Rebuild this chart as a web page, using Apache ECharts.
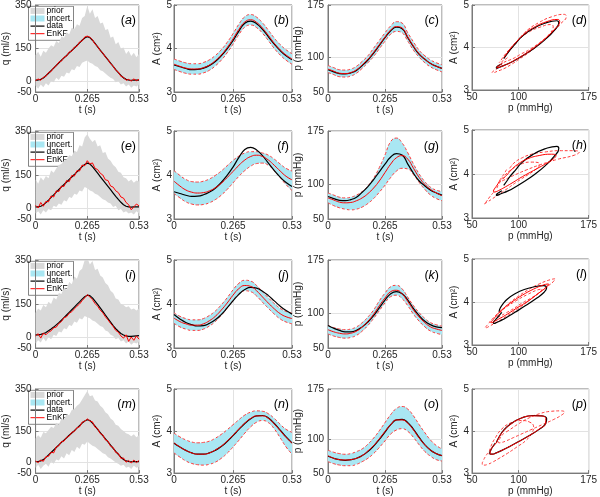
<!DOCTYPE html>
<html><head><meta charset="utf-8">
<script src="https://cdn.jsdelivr.net/npm/echarts@6/dist/echarts.min.js"></script>
<style>html,body{margin:0;padding:0;background:#fff}#c{width:600px;height:497px}</style>
</head><body><div id="c"></div><script>
// ---------- DATA ----------
const tq = [0,0.0133,0.0265,0.0398,0.053,0.0663,0.0795,0.0928,0.106,0.1193,0.1325,0.1458,0.159,0.1723,0.1855,0.1988,0.212,0.2253,0.2385,0.2518,0.265,0.2783,0.2915,0.3048,0.318,0.3313,0.3445,0.3578,0.371,0.3843,0.3975,0.4108,0.424,0.4373,0.4505,0.4638,0.477,0.4903,0.5035,0.5168,0.53];
const tAp = [0,0.0265,0.053,0.0795,0.106,0.1325,0.159,0.1855,0.212,0.2385,0.265,0.2915,0.318,0.3445,0.371,0.3975,0.424,0.4505,0.477,0.5035,0.53];

const qTicks = [-50,0,150,350];
const aTicks = [3,4,5];
const pTicks = [50,100,175];
const panelLetters = ['a','b','c','d','e','f','g','h','i','j','k','l','m','n','o','p'];
const legendNames = ['prior','uncert.','data','EnKF'];

// row 1
const qData1 = [5,5,8,14,25,36,48,60,72,84,96,107,118,130,141,152,164,176,188,198,204,200,188,173,158,143,128,113,98,83,68,53,39,26,15,8,5,4,5,5,5];
const qEnkf1 = [2,10,4,18,22,40,44,62,70,88,92,110,115,134,138,156,160,180,185,203,207,202,190,170,160,140,130,110,100,80,70,50,42,22,18,4,8,0,10,2,8];
const qPriorHi1 = [120,135,112,140,130,150,165,158,185,175,205,200,225,215,245,240,262,255,290,300,345,310,330,290,300,265,270,235,240,200,205,170,180,150,155,125,140,115,130,110,125];
const qPriorLo1 = [-20,-35,-15,-28,-10,-20,0,-5,15,5,25,20,40,35,55,50,70,65,85,90,95,85,80,70,65,50,45,35,25,15,10,-5,0,-15,-10,-25,-15,-30,-20,-25,-15];
const AData1 = [3.62,3.58,3.54,3.515,3.52,3.55,3.61,3.70,3.83,3.99,4.18,4.40,4.58,4.63,4.57,4.44,4.27,4.10,3.95,3.83,3.74];
const AEnkf1 = [3.64,3.59,3.55,3.53,3.53,3.56,3.62,3.72,3.85,4.02,4.22,4.44,4.61,4.66,4.60,4.47,4.30,4.12,3.97,3.85,3.76];
const ALo1 = [3.52,3.47,3.43,3.41,3.41,3.44,3.50,3.60,3.73,3.90,4.10,4.32,4.49,4.54,4.48,4.35,4.18,4.00,3.85,3.73,3.64];
const AHi1 = [3.76,3.71,3.67,3.65,3.65,3.68,3.74,3.84,3.97,4.14,4.34,4.56,4.73,4.78,4.72,4.59,4.42,4.24,4.09,3.97,3.88];
const pData1 = [82,79,76.5,76,77.5,81,88,96,106,117,128,138,143,141,128,115,104,97,91,87,84];
const pEnkf1 = [83,80,77,76.5,78,82,89,97,107,118,129,139,144,142,129,116,105,97,91,87,84];
const pLo1 = [78,75,72,71.5,73,77,84,92,101,112,123,133,137,135,123,110,100,92,86,82,79];
const pHi1 = [88,85,82,81.5,83,87,94,102,113,124,135,145,151,149,135,122,110,102,96,92,89];

// row 2
const qData2 = [5,5,8,14,25,36,48,60,72,84,96,107,118,130,141,152,164,176,188,198,204,200,188,173,158,143,128,113,98,83,68,53,39,26,15,8,5,4,5,5,5];
const qEnkf2 = [12,0,25,8,30,28,55,50,78,75,100,98,125,120,148,145,170,168,195,192,215,200,205,180,175,158,150,128,125,100,95,78,70,50,45,25,15,-8,5,18,10];
const qPriorHi2 = [130,110,140,125,145,135,170,160,180,195,200,215,220,240,235,260,255,285,280,320,335,315,300,310,280,285,250,255,225,215,195,185,165,160,140,135,120,130,115,125,120];
const qPriorLo2 = [-25,-15,-30,-10,-20,-5,-10,10,5,20,15,35,30,50,45,65,60,80,75,95,90,80,75,65,60,50,40,35,25,20,5,10,-10,-5,-20,-15,-25,-20,-30,-15,-25];
const AData2 = [3.62,3.58,3.54,3.515,3.52,3.55,3.61,3.70,3.83,3.99,4.18,4.40,4.58,4.63,4.57,4.44,4.27,4.10,3.95,3.83,3.74];
const AEnkf2 = [3.86,3.75,3.66,3.61,3.59,3.60,3.64,3.71,3.81,3.94,4.08,4.22,4.34,4.42,4.45,4.42,4.34,4.22,4.09,3.97,3.89];
const ALo2 = [3.58,3.48,3.39,3.34,3.32,3.33,3.37,3.44,3.54,3.67,3.82,3.97,4.10,4.20,4.26,4.27,4.22,4.10,3.94,3.78,3.65];
const AHi2 = [4.10,3.99,3.90,3.85,3.84,3.86,3.91,3.99,4.09,4.21,4.33,4.43,4.50,4.53,4.53,4.50,4.45,4.36,4.25,4.15,4.09];
const pData2 = [82,79,76.5,76,77.5,81,88,96,106,117,128,138,143,141,128,115,104,97,91,87,84];
const pEnkf2 = [80,77,74,73,73.5,76,80,86,94,104,116,128,137,140,135,122,109,99,92,87,83];
const pLo2 = [73,69,66,64,63,64,67,72,79,88,98,109,118,122,121,113,102,92,84,79,76];
const pHi2 = [87,84,81,80,81,84,89,97,108,123,141,160,165,158,144,128,114,103,95,91,89];

// row 3
const qData3 = [10,10,12,15,20,28,36,45,55,65,76,88,100,112,124,136,148,160,172,183,190,188,178,163,148,132,116,100,84,68,52,38,26,16,9,5,3,3,4,5,6];
const qEnkf3 = [5,15,-5,18,10,22,28,42,45,62,70,88,92,108,115,128,140,150,165,178,192,182,170,152,140,122,110,92,78,62,48,30,22,5,-5,10,-20,0,-15,5,-10];
const qPriorHi3 = [110,130,120,145,135,160,150,180,170,200,195,225,215,250,240,275,265,300,310,350,360,330,345,305,310,280,270,245,235,210,200,175,170,150,145,135,140,125,130,120,130];
const qPriorLo3 = [-30,-15,-25,-5,-20,0,-10,10,5,25,20,40,35,55,50,70,65,85,80,95,90,85,75,70,60,50,45,30,25,10,5,-10,-5,-20,-15,-30,-20,-35,-25,-30,-20];
const AData3 = [3.76,3.66,3.58,3.53,3.50,3.51,3.56,3.64,3.76,3.91,4.07,4.22,4.33,4.38,4.36,4.29,4.19,4.07,3.95,3.85,3.77];
const AEnkf3 = [3.68,3.60,3.55,3.52,3.52,3.55,3.62,3.72,3.86,4.02,4.20,4.35,4.42,4.40,4.30,4.16,4.02,3.89,3.78,3.71,3.67];
const ALo3 = [3.56,3.48,3.43,3.40,3.40,3.43,3.50,3.60,3.74,3.90,4.08,4.23,4.30,4.28,4.18,4.04,3.90,3.77,3.66,3.59,3.55];
const AHi3 = [3.80,3.72,3.67,3.64,3.64,3.67,3.74,3.84,3.98,4.14,4.32,4.47,4.54,4.52,4.42,4.28,4.14,4.01,3.90,3.83,3.79];
const pData3 = [82,78,75,73,73,75,80,87,96,107,118,127,130,127,118,106,96,88,83,80,79];
const pEnkf3 = [76,73,71,70,71,74,80,88,98,110,121,130,132,127,116,104,94,86,80,77,75];
const pLo3 = [70,67,65,64,65,68,74,82,92,103,114,123,125,120,110,98,88,80,74,71,69];
const pHi3 = [82,79,77,76,77,80,86,94,104,117,128,137,139,134,122,110,100,92,86,83,81];

// row 4
const qData4 = [5,5,8,14,25,36,48,60,72,84,96,107,118,130,141,152,164,176,188,198,204,200,188,173,158,143,128,113,98,83,68,53,39,26,15,8,5,4,5,5,5];
const qEnkf4 = [8,0,12,6,28,30,50,46,75,80,100,102,120,126,144,148,166,170,192,196,208,198,194,168,162,138,132,108,102,78,72,48,44,20,22,2,10,-2,12,0,10];
const qPriorHi4 = [115,130,118,145,140,155,170,165,190,180,210,205,230,225,250,255,270,280,300,320,340,315,320,295,290,270,260,240,230,210,200,180,175,160,150,140,135,125,135,120,130];
const qPriorLo4 = [-25,-10,-30,-15,-5,-20,5,-5,15,10,30,20,45,35,60,50,75,65,90,85,100,90,80,75,65,55,45,40,25,20,10,0,-5,-15,-10,-25,-20,-30,-15,-25,-20];
const AData4 = [3.71,3.62,3.54,3.48,3.45,3.45,3.48,3.54,3.63,3.75,3.89,4.04,4.18,4.29,4.36,4.37,4.31,4.18,4.02,3.86,3.72];
const AEnkf4 = [3.72,3.62,3.54,3.48,3.45,3.45,3.48,3.55,3.64,3.76,3.90,4.05,4.19,4.30,4.36,4.36,4.30,4.17,4.01,3.85,3.71];
const ALo4 = [3.48,3.38,3.29,3.23,3.20,3.19,3.21,3.26,3.35,3.47,3.62,3.78,3.95,4.10,4.21,4.25,4.20,4.05,3.84,3.62,3.45];
const AHi4 = [3.95,3.86,3.79,3.74,3.72,3.73,3.76,3.83,3.92,4.03,4.15,4.27,4.38,4.45,4.48,4.47,4.41,4.30,4.16,4.04,3.97];
const pData4 = [75,72,70,69,70,72,76,82,90,100,111,122,129,130,125,115,103,92,84,79,76];
const pEnkf4 = [76,72,70,69.5,70,72,76,83,91,101,112,122,129,129,124,114,102,92,84,79,76];
const pLo4 = [67,64,62,61,61,63,67,72,79,88,98,108,114,116,112,103,92,82,75,70,68];
const pHi4 = [84,81,79,78,79,82,86,93,102,113,125,137,146,149,145,135,122,110,99,91,86];

const rows = [
  {qData:qData1,qEnkf:qEnkf1,qLo:qPriorLo1,qHi:qPriorHi1,AData:AData1,AEnkf:AEnkf1,ALo:ALo1,AHi:AHi1,pData:pData1,pEnkf:pEnkf1,pLo:pLo1,pHi:pHi1},
  {qData:qData2,qEnkf:qEnkf2,qLo:qPriorLo2,qHi:qPriorHi2,AData:AData2,AEnkf:AEnkf2,ALo:ALo2,AHi:AHi2,pData:pData2,pEnkf:pEnkf2,pLo:pLo2,pHi:pHi2},
  {qData:qData3,qEnkf:qEnkf3,qLo:qPriorLo3,qHi:qPriorHi3,AData:AData3,AEnkf:AEnkf3,ALo:ALo3,AHi:AHi3,pData:pData3,pEnkf:pEnkf3,pLo:pLo3,pHi:pHi3},
  {qData:qData4,qEnkf:qEnkf4,qLo:qPriorLo4,qHi:qPriorHi4,AData:AData4,AEnkf:AEnkf4,ALo:ALo4,AHi:AHi4,pData:pData4,pEnkf:pEnkf4,pLo:pLo4,pHi:pHi4}
];

// ---------- STYLE / LAYOUT ----------
const FONT = "'Liberation Sans', Arial, sans-serif";
const TXT = '#262626';
const BOX = '#7a7a7a';
const GRIDC = '#e2e2e2';
const GRAY = '#d9d9d9';
const CYAN = '#a9e7f3';
const RED = '#ff0000';
const DRED = '#ff3b3b';
const colX = [[27,139],[174,292],[328,442],[472,590]];
const rowY = [[5,92],[131,219],[260,348],[389,476]];
const loopRowY = [[5,90],[130,218],[259,345],[389,474]];
const yNameGap = [14,10,16,8];
const yLabMargin = [4,2,4,3];

const grids=[], xAxes=[], yAxes=[], series=[], titles=[], graphics=[];
const xy = (xs, ys) => xs.map((x,i)=>[x, ys[i]]);
const nameStyle = {fontSize:10, color:TXT, fontFamily:FONT};
const labStyle = {fontSize:10, color:TXT, fontFamily:FONT};

function valAxis(gi, min, max, ticks, name, nameGap, margin){
  return {
    type:'value', gridIndex:gi, min, max, name, nameLocation:'middle', nameGap,
    nameTextStyle:nameStyle,
    axisLine:{show:true, onZero:false, lineStyle:{color:BOX, width:1}},
    axisTick:{show:true, inside:true, length:3, customValues:ticks, lineStyle:{color:BOX}},
    axisLabel:Object.assign({customValues:ticks, margin, formatter:v=>String(v)}, labStyle),
    splitLine:{show:true, lineStyle:{color:GRIDC, width:1}}
  };
}
function timeAxis(gi, ts){
  const iv = (ts.length-1)/2 - 1;
  return {
    type:'category', gridIndex:gi, data:ts, boundaryGap:false, name:'t (s)', nameLocation:'middle', nameGap:9,
    nameTextStyle:nameStyle,
    axisLine:{show:true, onZero:false, lineStyle:{color:BOX, width:1}},
    axisTick:{show:true, inside:true, length:3, interval:iv, lineStyle:{color:BOX}},
    axisLabel:Object.assign({interval:iv, margin:2}, labStyle),
    splitLine:{show:true, interval:iv, lineStyle:{color:GRIDC, width:1}}
  };
}
function band(gi, lo, hi, color, smooth, id){
  series.push({type:'line', xAxisIndex:gi, yAxisIndex:gi, stack:id, stackStrategy:'all', data:lo, symbol:'none', lineStyle:{width:0, opacity:0}, smooth, z:1, silent:true});
  series.push({type:'line', xAxisIndex:gi, yAxisIndex:gi, stack:id, stackStrategy:'all', data:hi.map((v,i)=>v-lo[i]), symbol:'none', lineStyle:{width:0, opacity:0}, areaStyle:{color, opacity:1}, smooth, z:1, silent:true});
}
function line(gi, data, color, width, dashed, z, smooth){
  series.push({type:'line', xAxisIndex:gi, yAxisIndex:gi, data, symbol:'none', smooth,
    lineStyle:{color, width, type: dashed ? [3,2] : 'solid'}, itemStyle:{color}, z, silent:true});
}

for (let r=0;r<4;r++){
  const R = rows[r];
  for (let c=0;c<4;c++){
    const gi = r*4+c;
    const yy = c===3 ? loopRowY[r] : rowY[r];
    grids.push({left:colX[c][0], top:yy[0], width:colX[c][1]-colX[c][0], height:yy[1]-yy[0], show:true, borderColor:BOX, borderWidth:1, backgroundColor:'#fff', containLabel:false});
    if (c===0) xAxes.push(timeAxis(gi, tq));
    else if (c<3) xAxes.push(timeAxis(gi, tAp));
    else xAxes.push(valAxis(gi, 50, 175, pTicks, 'p (mmHg)', 9, 2));
    if (c===0) yAxes.push(valAxis(gi, -50, 350, qTicks, 'q (ml/s)', yNameGap[c], yLabMargin[c]));
    else if (c===2) yAxes.push(valAxis(gi, 50, 175, pTicks, 'p (mmHg)', yNameGap[c], yLabMargin[c]));
    else yAxes.push(valAxis(gi, 3, 5, aTicks, 'A (cm\u00B2)', yNameGap[c], yLabMargin[c]));
    titles.push({text:'{p|(}{i|'+panelLetters[gi]+'}{p|)}', right:600-colX[c][1]+3, top:yy[0]+9, padding:0,
      textStyle:{fontSize:12.5, fontWeight:'normal', fontFamily:FONT, color:'#000',
        rich:{p:{fontSize:12.5, fontWeight:'normal', fontFamily:FONT, color:'#000'}, i:{fontSize:12.5, fontWeight:'normal', fontStyle:'italic', fontFamily:FONT, color:'#000'}}}});
  }
  const gq = r*4, ga = r*4+1, gp = r*4+2, gl = r*4+3;
  // q panel
  band(gq, R.qLo, R.qHi, GRAY, false, 'qb'+r);
  line(gq, R.qData, '#000', 1.2, false, 3, false);
  line(gq, R.qEnkf, RED, 1, false, 4, false);
  // A panel
  band(ga, R.ALo, R.AHi, CYAN, true, 'ab'+r);
  line(ga, R.ALo, DRED, 1, true, 2, true);
  line(ga, R.AHi, DRED, 1, true, 2, true);
  line(ga, R.AData, '#000', 1.2, false, 3, true);
  line(ga, R.AEnkf, RED, 1, false, 4, true);
  // p panel
  band(gp, R.pLo, R.pHi, CYAN, true, 'pb'+r);
  line(gp, R.pLo, DRED, 1, true, 2, true);
  line(gp, R.pHi, DRED, 1, true, 2, true);
  line(gp, R.pData, '#000', 1.2, false, 3, true);
  line(gp, R.pEnkf, RED, 1, false, 4, true);
  // loop panel
  line(gl, xy(R.pLo, R.ALo), DRED, 1, true, 2, true);
  line(gl, xy(R.pHi, R.AHi), DRED, 1, true, 2, true);
  line(gl, xy(R.pData, R.AData), '#000', 1.2, false, 3, true);
  line(gl, xy(R.pEnkf, R.AEnkf), RED, 1, false, 4, true);

  // legend box (q panel, top-left)
  const step = 7.6, h0 = 4.6;
  const kids = [{type:'rect', shape:{x:0, y:0, width:45, height:34}, style:{fill:'#fff', stroke:'#333', lineWidth:0.6}}];
  legendNames.forEach((nm, k) => {
    const cy = h0 + k*step;
    if (k < 2) kids.push({type:'rect', shape:{x:2, y:cy-3, width:14, height:6}, style:{fill: k===0 ? GRAY : CYAN}});
    else kids.push({type:'line', shape:{x1:2, y1:cy, x2:16, y2:cy}, style:{stroke: k===2 ? '#000' : RED, lineWidth: k===2 ? 1.2 : 1}});
    kids.push({type:'text', x:18, y:cy, style:{text:nm, fontSize:8.5, fontFamily:FONT, fill:'#000', verticalAlign:'middle', align:'left'}});
  });
  graphics.push({type:'group', left:colX[0][0]+1, top:rowY[r][0]+1, z:100, silent:true, children:kids});
}

const chart = echarts.init(document.getElementById('c'), null, {renderer:'canvas'});
chart.setOption({
  animation:false,
  backgroundColor:'#fff',
  grid:grids, xAxis:xAxes, yAxis:yAxes, series, title:titles, graphic:graphics
});
</script></body></html>
